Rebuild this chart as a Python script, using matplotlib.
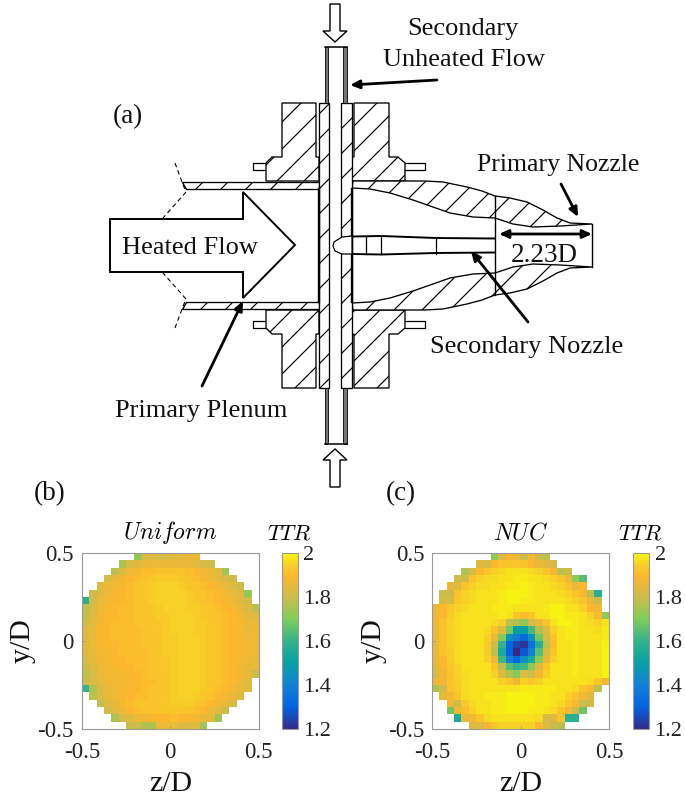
"""Nozzle schematic (a) with TTR maps for the Uniform (b) and NUC (c) cases."""

import numpy as np
import matplotlib
matplotlib.use("Agg")
import matplotlib.pyplot as plt
from matplotlib.colors import LinearSegmentedColormap
from matplotlib.patches import Polygon

#----- Global plot adjustments -----#

plt.rcParams['font.family'] = ['Liberation Serif', 'DejaVu Serif']
plt.rcParams['mathtext.fontset'] = 'cm'

#----- Data -----#

# TTR x 100, one row per grid line from top to bottom: first filled column, then values
uniform_starts = [7, 5, 4, 3, 2, 1, 0, 0, 0, 0, 0, 0, 0, 0, 0, 0, 0, 0, 0, 1, 2, 3, 4, 6]
uniform_rows = [
    [172, 182, 184, 183, 182, 184, 185, 186, 186],
    [176, 182, 184, 186, 187, 187, 186, 187, 186, 186, 184, 182, 180],
    [178, 184, 187, 189, 191, 191, 192, 192, 192, 192, 191, 190, 188, 186, 184, 174],
    [182, 185, 188, 190, 191, 192, 193, 194, 194, 194, 193, 192, 191, 189, 187, 185, 182, 180],
    [184, 186, 188, 189, 191, 192, 193, 194, 195, 195, 195, 194, 193, 192, 191, 190, 188, 186, 184, 180],
    [180, 184, 187, 189, 190, 191, 192, 193, 194, 195, 195, 195, 195, 194, 193, 192, 191, 190, 188, 186, 184, 172],
    [158, 180, 186, 188, 189, 190, 191, 192, 193, 194, 195, 195, 195, 195, 194, 193, 192, 191, 190, 189, 187, 184, 180],
    [178, 182, 187, 189, 190, 191, 191, 192, 193, 193, 194, 195, 195, 195, 194, 194, 193, 192, 191, 190, 189, 186, 182, 178],
    [178, 184, 188, 190, 190, 191, 191, 192, 192, 193, 194, 194, 195, 195, 195, 194, 193, 192, 192, 191, 190, 188, 185, 184],
    [180, 185, 188, 190, 191, 191, 191, 192, 192, 193, 193, 194, 195, 195, 195, 194, 194, 193, 192, 191, 190, 189, 186, 186],
    [184, 186, 189, 190, 191, 191, 191, 191, 192, 193, 193, 194, 195, 195, 195, 194, 194, 193, 192, 191, 190, 189, 187, 187],
    [184, 187, 189, 190, 191, 191, 191, 191, 192, 192, 193, 194, 194, 195, 195, 195, 194, 193, 192, 191, 190, 189, 187, 187],
    [184, 187, 189, 190, 190, 191, 191, 191, 192, 192, 193, 194, 194, 195, 195, 195, 194, 193, 192, 191, 190, 189, 188, 187],
    [184, 186, 188, 189, 190, 191, 191, 191, 191, 192, 193, 194, 194, 195, 195, 195, 194, 193, 192, 191, 190, 189, 188, 187],
    [182, 185, 188, 189, 190, 190, 191, 191, 191, 192, 193, 193, 194, 195, 195, 195, 194, 193, 192, 191, 190, 189, 187, 186],
    [180, 184, 187, 188, 189, 190, 190, 191, 191, 192, 193, 193, 194, 195, 195, 195, 194, 193, 192, 191, 190, 188, 186, 186],
    [178, 182, 186, 188, 188, 189, 189, 190, 191, 192, 192, 193, 194, 195, 195, 195, 194, 193, 192, 191, 190, 188, 185, 180],
    [180, 182, 185, 187, 188, 188, 189, 190, 191, 191, 192, 193, 194, 195, 195, 195, 194, 193, 192, 191, 190, 187, 184],
    [160, 176, 184, 186, 187, 188, 190, 190, 191, 192, 192, 193, 194, 195, 195, 195, 194, 193, 191, 190, 188, 186, 184],
    [178, 182, 186, 187, 189, 190, 191, 191, 192, 192, 193, 194, 195, 195, 194, 193, 192, 190, 188, 186, 184],
    [178, 184, 185, 189, 191, 192, 192, 192, 193, 193, 194, 194, 194, 193, 192, 190, 188, 186, 182],
    [180, 184, 186, 190, 191, 192, 192, 192, 193, 193, 193, 192, 191, 190, 186, 184, 180],
    [176, 182, 184, 187, 188, 189, 190, 190, 191, 190, 190, 188, 186, 185, 174],
    [180, 180, 176, 176, 186, 187, 186, 184, 183, 184, 174],
]

nuc_starts = [8, 6, 4, 3, 2, 1, 1, 0, 0, 0, 0, 0, 0, 0, 0, 0, 0, 0, 0, 1, 2, 2, 3, 5]
nuc_rows = [
    [172, 184, 190, 187, 180, 189, 180, 178],
    [184, 182, 190, 192, 192, 193, 192, 190, 186, 184, 182],
    [176, 182, 190, 193, 195, 196, 197, 197, 197, 196, 195, 192, 189, 178, 180],
    [182, 180, 192, 195, 196, 196, 197, 197, 198, 198, 197, 197, 196, 195, 192, 186, 172, 165],
    [186, 184, 192, 195, 196, 196, 197, 197, 198, 198, 199, 198, 197, 197, 196, 195, 192, 186, 190],
    [180, 180, 192, 195, 196, 197, 197, 197, 198, 199, 199, 199, 198, 197, 197, 197, 196, 195, 192, 189, 178, 158],
    [182, 182, 193, 195, 196, 197, 197, 197, 198, 199, 199, 198, 198, 197, 197, 197, 197, 196, 195, 192, 186, 180],
    [186, 190, 193, 195, 196, 197, 197, 197, 198, 198, 198, 197, 197, 197, 197, 198, 199, 199, 197, 197, 195, 190, 188],
    [188, 190, 194, 196, 197, 197, 197, 197, 197, 198, 197, 193, 191, 193, 197, 197, 199, 199, 198, 198, 197, 195, 190, 172],
    [188, 192, 195, 196, 197, 197, 197, 197, 196, 195, 178, 176, 172, 182, 186, 193, 197, 199, 199, 198, 197, 196, 195, 197],
    [186, 192, 195, 196, 197, 197, 197, 196, 192, 184, 168, 150, 150, 163, 176, 184, 195, 197, 198, 198, 197, 197, 196, 198],
    [186, 192, 195, 196, 197, 197, 197, 195, 186, 170, 145, 138, 132, 145, 168, 182, 192, 197, 198, 198, 197, 197, 197, 198],
    [186, 192, 195, 196, 197, 197, 197, 194, 180, 160, 132, 125, 122, 135, 158, 178, 191, 197, 197, 198, 197, 197, 197, 199],
    [186, 192, 194, 196, 197, 197, 197, 194, 178, 155, 130, 120, 128, 140, 165, 182, 193, 197, 197, 198, 197, 197, 197, 199],
    [186, 190, 194, 196, 197, 197, 197, 195, 186, 162, 140, 132, 145, 155, 172, 186, 195, 197, 197, 198, 197, 197, 197, 199],
    [184, 190, 193, 195, 197, 197, 197, 197, 193, 178, 165, 160, 162, 172, 184, 193, 197, 197, 197, 198, 197, 197, 197, 199],
    [182, 188, 192, 195, 196, 197, 197, 197, 195, 184, 176, 170, 183, 180, 188, 195, 197, 197, 197, 198, 197, 197, 197, 199],
    [188, 188, 192, 194, 196, 197, 197, 197, 197, 195, 193, 188, 195, 193, 195, 197, 197, 197, 197, 197, 197, 196, 193, 188],
    [176, 180, 192, 194, 196, 197, 197, 197, 197, 197, 197, 197, 198, 198, 198, 198, 198, 197, 197, 196, 193, 190, 178],
    [186, 188, 193, 196, 197, 197, 198, 198, 198, 199, 199, 199, 199, 198, 198, 197, 197, 195, 192, 188, 184],
    [188, 180, 193, 196, 197, 197, 198, 198, 199, 199, 199, 199, 198, 198, 197, 196, 193, 190, 180, 180],
    [168, 188, 191, 195, 197, 197, 198, 198, 199, 199, 199, 198, 198, 197, 196, 193, 188, 180, 168],
    [155, 186, 188, 192, 196, 197, 197, 197, 197, 197, 197, 196, 182, 184, 192, 158, 158],
    [184, 184, 188, 193, 195, 195, 195, 195, 195, 190, 184, 180, 178],
]

tick_values = [-0.5, 0, 0.5]
tick_labels = ["-0.5", "0", "0.5"]
cbar_ticks = [1.2, 1.4, 1.6, 1.8, 2.0]
cbar_labels = ["1.2", "1.4", "1.6", "1.8", "2"]

# schematic outlines, in picture pixels (y down); the rig is mirrored about y = 245.5
mirror_y = 245.5
flange_upper_left = [(282, 103), (316, 103), (316, 157), (319, 157), (319, 181),
                     (266, 181), (266, 163), (272, 157), (282, 157)]
flange_upper_right = [(354, 103), (389, 103), (389, 157), (398, 157), (405, 163),
                      (405, 181), (352, 181), (352, 157), (354, 157)]
bolt_left = [(265, 163), (253, 163), (253, 170), (265, 170)]
bolt_right = [(405, 163), (425, 163), (425, 170), (405, 170)]
pipe_upper = [(182, 182), (319, 182), (319, 189), (186, 189)]
pipe_break = [(175, 163), (182, 182), (186, 192), (163, 218)]
nozzle_outer = [(353, 181), (425, 181), (443, 182), (467, 187), (482, 191), (495, 196),
                (510, 198), (527, 202), (543, 210), (557, 218), (570, 223), (592, 224)]
nozzle_inner = [(352, 188), (370, 189), (390, 193), (413, 200), (433, 207), (450, 213),
                (473, 217), (495, 218), (513, 224), (533, 227), (560, 226), (592, 224)]
tube_upper_left = [(325, 47), (328, 47), (328, 103), (325, 103)]
tube_upper_right = [(343, 47), (347, 47), (347, 103), (343, 103)]
column_x = [319, 329, 341, 352]
column_y = [103, 388]
heated_arrow = [(110, 219), (243, 219), (243, 192), (295, 245), (243, 298),
                (243, 272), (110, 272)]
inlet_arrow = [(330, 4), (340, 4), (340, 31), (347, 31), (335, 42), (323, 31), (330, 31)]
nose_outline = [(352, 236), (342, 237), (334, 242), (333, 246), (335, 251), (342, 254), (352, 254)]
inner_wall_top = [(353, 236.5), (381, 236), (436, 238), (495, 238.5)]
inner_wall_bottom = [(353, 254), (381, 254.5), (436, 253), (495, 252.5)]
inner_joints = [366, 381, 436]

# label arrows: (tail, head)
pointer_arrows = [
    ((437, 80), (350, 85)),
    ((561, 184), (578, 217)),
    ((528, 322), (471, 251)),
    ((202, 386), (243, 301)),
]
span_arrow = ((499, 234), (592, 234))

schematic_labels = [
    ("Secondary", 463, 29, 19),
    ("Unheated Flow", 464, 60, 19),
    ("(a)", 128, 117, 19.5),
    ("Heated Flow", 190, 248, 19),
    ("Primary Nozzle", 558, 165, 18.5),
    ("2.23D", 544, 255, 19.5),
    ("Secondary Nozzle", 527, 347, 19),
    ("Primary Plenum", 201, 411, 19),
    ("(b)", 50, 494, 19.5),
    ("(c)", 401, 494, 19.5),
]

# MATLAB parula, reduced to a few stops
parula_stops = [
    (0.0, (0.2081, 0.1663, 0.5292)), (0.125, (0.0117, 0.3875, 0.8820)),
    (0.25, (0.0779, 0.5040, 0.8384)), (0.375, (0.0239, 0.6287, 0.6418)),
    (0.5, (0.2000, 0.7000, 0.5500)), (0.625, (0.5044, 0.7993, 0.3480)),
    (0.75, (0.8000, 0.7400, 0.3000)), (0.875, (0.9900, 0.7200, 0.1800)),
    (0.94, (0.9700, 0.8200, 0.1600)), (1.0, (0.9763, 0.9831, 0.0538)),
]

#----- Plot functions -----#

def to_grid(starts, rows):
    grid = np.full((24, 24), np.nan)
    for i, (start, vals) in enumerate(zip(starts, rows)):
        grid[i, start:start + len(vals)] = vals
    return grid / 100


def flip(points):
    return [(x, 2 * mirror_y - y) for x, y in points]


def draw_hatched(ax, points, spacing=26, offset=0, lw=0.85):
    patch = Polygon(points, closed=True, facecolor="white", edgecolor="black", lw=lw + 0.1, zorder=2)
    ax.add_patch(patch)
    for c in np.arange(offset, 1400, spacing):
        line, = ax.plot([0, 800], [c, c - 800], color="black", lw=lw, zorder=2.5)
        line.set_clip_path(patch)


def draw_schematic(ax):
    # (mirror function, left flange offset, right flange offset, nozzle spacing, nozzle offset)
    halves = [(lambda p: p, 26, 5, 25, 7), (flip, 8, 15, 28, 4)]
    for flipper, left_off, right_off, noz_space, noz_off in halves:
        draw_hatched(ax, flipper(flange_upper_left), spacing=27, offset=left_off)
        draw_hatched(ax, flipper(flange_upper_right), spacing=25, offset=right_off)
        draw_hatched(ax, flipper(pipe_upper), spacing=25, offset=10)
        draw_hatched(ax, flipper(nozzle_outer + nozzle_inner[::-1]), spacing=noz_space, offset=noz_off)
        for bolt in (bolt_left, bolt_right):
            xs, ys = zip(*flipper(bolt))
            ax.plot(xs, ys, color="black", lw=0.9, zorder=3)
        for tube in (tube_upper_left, tube_upper_right):
            ax.add_patch(Polygon(flipper(tube), closed=True, facecolor="#777777",
                                 edgecolor="black", lw=0.6, zorder=3))
        tube_cap = flipper([(325, 47), (347, 47)])
        ax.plot(*zip(*tube_cap), color="black", lw=1.1, zorder=3)
        xs, ys = zip(*flipper(pipe_break))
        ax.plot(xs, ys, color="black", lw=0.8, ls=(0, (4, 3)), zorder=3)
        ax.add_patch(Polygon(flipper(inlet_arrow), closed=True, facecolor="white",
                             edgecolor="black", lw=1.0, zorder=3))

    # central column with its hatched walls
    draw_hatched(ax, [(column_x[0], column_y[0]), (column_x[1], column_y[0]),
                      (column_x[1], column_y[1]), (column_x[0], column_y[1])], spacing=25, offset=8)
    draw_hatched(ax, [(column_x[2], column_y[0]), (column_x[3], column_y[0]),
                      (column_x[3], column_y[1]), (column_x[2], column_y[1])], spacing=25, offset=20)
    for x in (column_x[0], column_x[3]):
        ax.plot([x, x], [189, 302], color="black", lw=1.7, zorder=3)

    # nozzle exit and joint
    ax.plot([592, 592], [224, 267], color="black", lw=1.0, zorder=3)
    ax.plot([495, 495], [196, 295], color="black", lw=1.0, zorder=3)

    # inner nozzle
    ax.add_patch(Polygon(nose_outline, closed=True, facecolor="white", edgecolor="black", lw=0.9, zorder=3))
    for wall in (inner_wall_top, inner_wall_bottom):
        ax.plot(*zip(*wall), color="black", lw=1.4, zorder=3)
    for x in inner_joints:
        ax.plot([x, x], [236.5, 254], color="black", lw=0.9, zorder=3)

    ax.add_patch(Polygon(heated_arrow, closed=True, facecolor="white", edgecolor="black", lw=1.4, zorder=4))

    for tail, head in pointer_arrows:
        ax.annotate("", xy=head, xytext=tail, zorder=6,
                    arrowprops=dict(arrowstyle="-|>,head_length=0.55,head_width=0.25", color="black",
                                    lw=2.0, shrinkA=0, shrinkB=0))
    ax.annotate("", xy=span_arrow[1], xytext=span_arrow[0], zorder=6,
                arrowprops=dict(arrowstyle="<|-|>,head_length=0.55,head_width=0.25", color="black",
                                lw=2.0, shrinkA=0, shrinkB=0))

    for text, x, y, size in schematic_labels:
        ax.text(x, y, text, fontsize=size, ha="center", va="center", zorder=7, color="#111111")


def draw_map(fig, grid, cmap, title, ax_left, cbar_left, cbar_width):
    W, H = 685, 796
    top, bottom, side = 553, 729, 176.5
    ax = fig.add_axes([ax_left / W, 1 - bottom / H, side / W, (bottom - top) / H])
    im = ax.imshow(grid, cmap=cmap, vmin=1.2, vmax=2.0, extent=(-0.5, 0.5, -0.5, 0.5),
                   interpolation="nearest", aspect="auto")
    ax.set_xticks(tick_values, tick_labels)
    ax.set_yticks(tick_values, tick_labels)
    ax.tick_params(length=2, width=0.6, color="#999999", direction="in", labelsize=16.5, labelcolor="#222222")
    ax.tick_params(axis="x", pad=9)
    ax.tick_params(axis="y", pad=6)
    for spine in ax.spines.values():
        spine.set_color("#999999")
        spine.set_linewidth(0.8)
    ax.set_xlabel("z/D", fontsize=21.5, labelpad=6, color="#111111")
    ax.set_ylabel("y/D", fontsize=21.5, labelpad=1, color="#111111")
    ax.set_title(title, fontsize=17, pad=10)

    cax = fig.add_axes([cbar_left / W, 1 - bottom / H, cbar_width / W, (bottom - top) / H])
    cbar = fig.colorbar(im, cax=cax)
    cbar.set_ticks(cbar_ticks, labels=cbar_labels)
    cbar.ax.tick_params(length=0, labelsize=16, pad=4, labelcolor="#222222")
    cbar.outline.set_edgecolor("#999999")
    cbar.outline.set_linewidth(0.8)
    cax.set_title(r"$TTR$", fontsize=16, pad=10)


#----- Run Main -----#

if __name__ == "__main__":

    parula = LinearSegmentedColormap.from_list("parula_like", parula_stops, N=256)

    fig = plt.figure(figsize=(6.85, 7.96), dpi=100)

    overlay = fig.add_axes([0, 0, 1, 1])
    overlay.set_xlim(0, 685)
    overlay.set_ylim(796, 0)
    overlay.axis("off")
    overlay.autoscale(False)
    draw_schematic(overlay)

    draw_map(fig, to_grid(uniform_starts, uniform_rows), parula, r"$Uniform$", 82, 282, 15.5)
    draw_map(fig, to_grid(nuc_starts, nuc_rows), parula, r"$NUC$", 432.5, 632.5, 16.5)

    fig.savefig("out.png", dpi=100)
